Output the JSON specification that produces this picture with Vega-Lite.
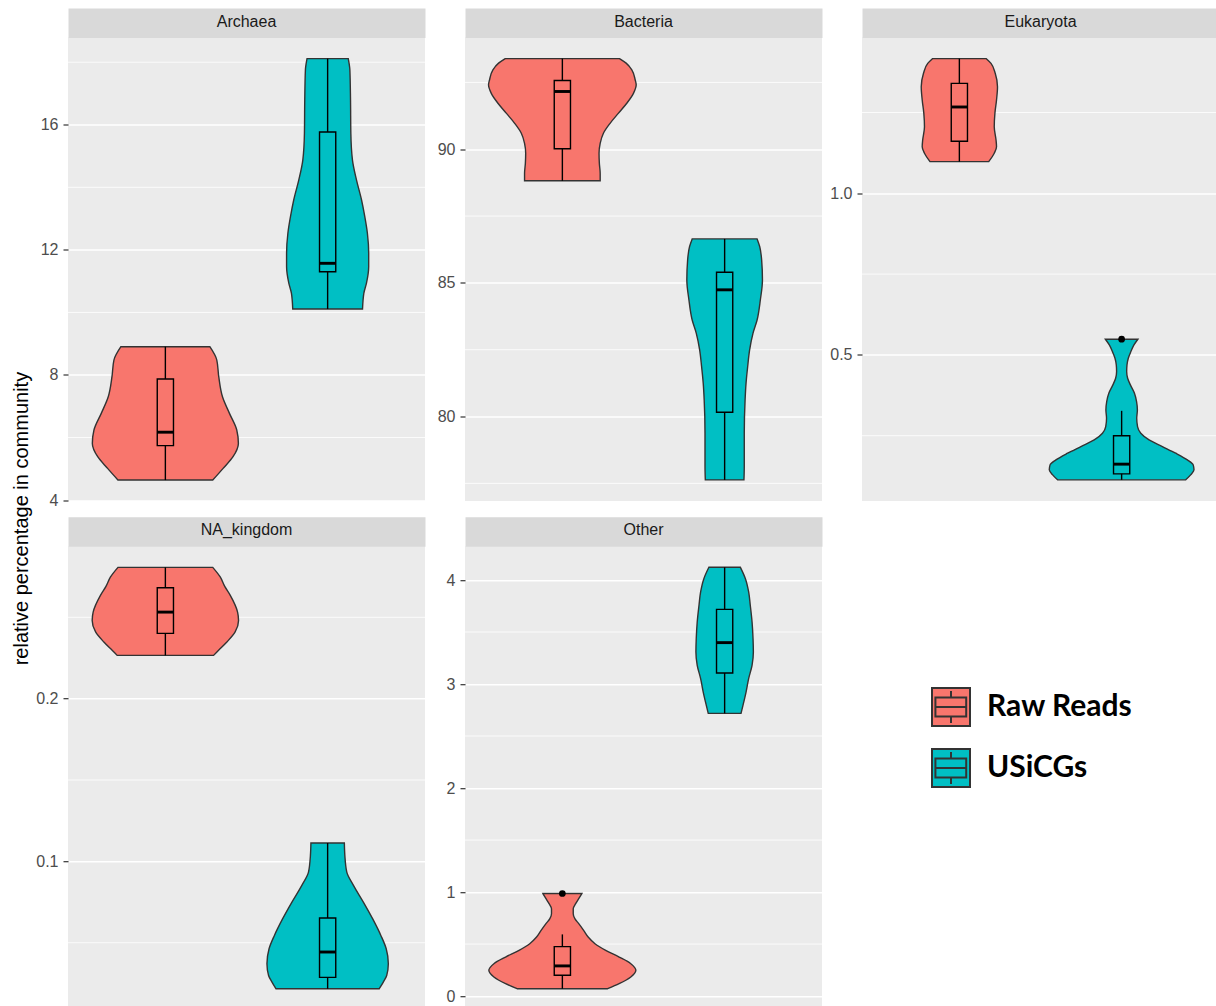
{
  "$schema": "https://vega.github.io/schema/vega-lite/v6.json",
  "padding": {"left": 11, "top": 13.5, "right": 0, "bottom": 0},
  "title": {"text": "relative percentage in community", "orient": "left", "anchor": "middle", "font": "Liberation Sans", "fontSize": 20, "fontWeight": "normal", "color": "#000000", "offset": 4, "dx": -7},
  "datasets": {
    "violin": [
      {"k":"Archaea","s":"Raw Reads","y":8.903,"w":0.274},{"k":"Archaea","s":"Raw Reads","y":8.477,"w":0.317},{"k":"Archaea","s":"Raw Reads","y":7.944,"w":0.329},{"k":"Archaea","s":"Raw Reads","y":7.304,"w":0.352},{"k":"Archaea","s":"Raw Reads","y":6.772,"w":0.395},{"k":"Archaea","s":"Raw Reads","y":6.239,"w":0.44},{"k":"Archaea","s":"Raw Reads","y":5.812,"w":0.45},{"k":"Archaea","s":"Raw Reads","y":5.386,"w":0.417},{"k":"Archaea","s":"Raw Reads","y":5.013,"w":0.356},{"k":"Archaea","s":"Raw Reads","y":4.64,"w":0.292},
      {"k":"Archaea","s":"USiCGs","y":18.114,"w":0.127},{"k":"Archaea","s":"USiCGs","y":17.75,"w":0.137},{"k":"Archaea","s":"USiCGs","y":16.79,"w":0.141},{"k":"Archaea","s":"USiCGs","y":15.73,"w":0.143},{"k":"Archaea","s":"USiCGs","y":14.87,"w":0.153},{"k":"Archaea","s":"USiCGs","y":14.23,"w":0.178},{"k":"Archaea","s":"USiCGs","y":13.594,"w":0.209},{"k":"Archaea","s":"USiCGs","y":13.06,"w":0.229},{"k":"Archaea","s":"USiCGs","y":12.53,"w":0.245},{"k":"Archaea","s":"USiCGs","y":11.89,"w":0.253},{"k":"Archaea","s":"USiCGs","y":11.46,"w":0.253},{"k":"Archaea","s":"USiCGs","y":10.93,"w":0.239},{"k":"Archaea","s":"USiCGs","y":10.61,"w":0.223},{"k":"Archaea","s":"USiCGs","y":10.108,"w":0.215},
      {"k":"Bacteria","s":"Raw Reads","y":93.39,"w":0.352},{"k":"Bacteria","s":"Raw Reads","y":93.22,"w":0.393},{"k":"Bacteria","s":"Raw Reads","y":92.97,"w":0.428},{"k":"Bacteria","s":"Raw Reads","y":92.59,"w":0.449},{"k":"Bacteria","s":"Raw Reads","y":92.41,"w":0.455},{"k":"Bacteria","s":"Raw Reads","y":92.09,"w":0.438},{"k":"Bacteria","s":"Raw Reads","y":91.72,"w":0.397},{"k":"Bacteria","s":"Raw Reads","y":91.35,"w":0.346},{"k":"Bacteria","s":"Raw Reads","y":90.97,"w":0.294},{"k":"Bacteria","s":"Raw Reads","y":90.6,"w":0.253},{"k":"Bacteria","s":"Raw Reads","y":90.22,"w":0.233},{"k":"Bacteria","s":"Raw Reads","y":89.85,"w":0.226},{"k":"Bacteria","s":"Raw Reads","y":89.47,"w":0.228},{"k":"Bacteria","s":"Raw Reads","y":89.1,"w":0.233},{"k":"Bacteria","s":"Raw Reads","y":88.82,"w":0.233},
      {"k":"Bacteria","s":"USiCGs","y":86.645,"w":0.2},{"k":"Bacteria","s":"USiCGs","y":86.36,"w":0.216},{"k":"Bacteria","s":"USiCGs","y":85.86,"w":0.228},{"k":"Bacteria","s":"USiCGs","y":85.11,"w":0.233},{"k":"Bacteria","s":"USiCGs","y":84.36,"w":0.22},{"k":"Bacteria","s":"USiCGs","y":83.61,"w":0.2},{"k":"Bacteria","s":"USiCGs","y":83.12,"w":0.175},{"k":"Bacteria","s":"USiCGs","y":82.49,"w":0.154},{"k":"Bacteria","s":"USiCGs","y":81.87,"w":0.142},{"k":"Bacteria","s":"USiCGs","y":81.25,"w":0.132},{"k":"Bacteria","s":"USiCGs","y":80.62,"w":0.126},{"k":"Bacteria","s":"USiCGs","y":79.38,"w":0.121},{"k":"Bacteria","s":"USiCGs","y":78.13,"w":0.121},{"k":"Bacteria","s":"USiCGs","y":77.63,"w":0.119},
      {"k":"Eukaryota","s":"Raw Reads","y":1.4165,"w":0.166},{"k":"Eukaryota","s":"Raw Reads","y":1.4021,"w":0.195},{"k":"Eukaryota","s":"Raw Reads","y":1.3712,"w":0.221},{"k":"Eukaryota","s":"Raw Reads","y":1.3299,"w":0.235},{"k":"Eukaryota","s":"Raw Reads","y":1.2887,"w":0.229},{"k":"Eukaryota","s":"Raw Reads","y":1.2474,"w":0.219},{"k":"Eukaryota","s":"Raw Reads","y":1.2062,"w":0.215},{"k":"Eukaryota","s":"Raw Reads","y":1.1649,"w":0.226},{"k":"Eukaryota","s":"Raw Reads","y":1.1443,"w":0.229},{"k":"Eukaryota","s":"Raw Reads","y":1.1237,"w":0.215},{"k":"Eukaryota","s":"Raw Reads","y":1.0979,"w":0.181},
      {"k":"Eukaryota","s":"USiCGs","y":0.5485,"w":0.1},{"k":"Eukaryota","s":"USiCGs","y":0.5309,"w":0.076},{"k":"Eukaryota","s":"USiCGs","y":0.5103,"w":0.057},{"k":"Eukaryota","s":"USiCGs","y":0.4897,"w":0.041},{"k":"Eukaryota","s":"USiCGs","y":0.4691,"w":0.033},{"k":"Eukaryota","s":"USiCGs","y":0.4484,"w":0.031},{"k":"Eukaryota","s":"USiCGs","y":0.4278,"w":0.037},{"k":"Eukaryota","s":"USiCGs","y":0.4072,"w":0.054},{"k":"Eukaryota","s":"USiCGs","y":0.3814,"w":0.079},{"k":"Eukaryota","s":"USiCGs","y":0.3557,"w":0.092},{"k":"Eukaryota","s":"USiCGs","y":0.3299,"w":0.097},{"k":"Eukaryota","s":"USiCGs","y":0.3041,"w":0.093},{"k":"Eukaryota","s":"USiCGs","y":0.2783,"w":0.098},{"k":"Eukaryota","s":"USiCGs","y":0.2577,"w":0.118},{"k":"Eukaryota","s":"USiCGs","y":0.2371,"w":0.169},{"k":"Eukaryota","s":"USiCGs","y":0.2165,"w":0.251},{"k":"Eukaryota","s":"USiCGs","y":0.1959,"w":0.333},{"k":"Eukaryota","s":"USiCGs","y":0.1752,"w":0.405},{"k":"Eukaryota","s":"USiCGs","y":0.1598,"w":0.441},{"k":"Eukaryota","s":"USiCGs","y":0.1443,"w":0.446},{"k":"Eukaryota","s":"USiCGs","y":0.1288,"w":0.425},{"k":"Eukaryota","s":"USiCGs","y":0.1134,"w":0.395},
      {"k":"NA_kingdom","s":"Raw Reads","y":0.2807,"w":0.292},{"k":"NA_kingdom","s":"Raw Reads","y":0.2748,"w":0.338},{"k":"NA_kingdom","s":"Raw Reads","y":0.269,"w":0.366},{"k":"NA_kingdom","s":"Raw Reads","y":0.2635,"w":0.4},{"k":"NA_kingdom","s":"Raw Reads","y":0.2532,"w":0.445},{"k":"NA_kingdom","s":"Raw Reads","y":0.2481,"w":0.451},{"k":"NA_kingdom","s":"Raw Reads","y":0.241,"w":0.43},{"k":"NA_kingdom","s":"Raw Reads","y":0.2348,"w":0.379},{"k":"NA_kingdom","s":"Raw Reads","y":0.2297,"w":0.328},{"k":"NA_kingdom","s":"Raw Reads","y":0.2266,"w":0.297},
      {"k":"NA_kingdom","s":"USiCGs","y":0.1113,"w":0.103},{"k":"NA_kingdom","s":"USiCGs","y":0.1037,"w":0.106},{"k":"NA_kingdom","s":"USiCGs","y":0.0934,"w":0.118},{"k":"NA_kingdom","s":"USiCGs","y":0.0853,"w":0.159},{"k":"NA_kingdom","s":"USiCGs","y":0.075,"w":0.22},{"k":"NA_kingdom","s":"USiCGs","y":0.0648,"w":0.277},{"k":"NA_kingdom","s":"USiCGs","y":0.0545,"w":0.328},{"k":"NA_kingdom","s":"USiCGs","y":0.0463,"w":0.361},{"k":"NA_kingdom","s":"USiCGs","y":0.0371,"w":0.374},{"k":"NA_kingdom","s":"USiCGs","y":0.0299,"w":0.364},{"k":"NA_kingdom","s":"USiCGs","y":0.0258,"w":0.343},{"k":"NA_kingdom","s":"USiCGs","y":0.0217,"w":0.318},
      {"k":"Other","s":"Raw Reads","y":0.986,"w":0.12},{"k":"Other","s":"Raw Reads","y":0.9363,"w":0.101},{"k":"Other","s":"Raw Reads","y":0.8882,"w":0.082},{"k":"Other","s":"Raw Reads","y":0.8401,"w":0.067},{"k":"Other","s":"Raw Reads","y":0.792,"w":0.067},{"k":"Other","s":"Raw Reads","y":0.744,"w":0.077},{"k":"Other","s":"Raw Reads","y":0.6959,"w":0.101},{"k":"Other","s":"Raw Reads","y":0.6317,"w":0.131},{"k":"Other","s":"Raw Reads","y":0.5676,"w":0.159},{"k":"Other","s":"Raw Reads","y":0.5036,"w":0.201},{"k":"Other","s":"Raw Reads","y":0.4394,"w":0.267},{"k":"Other","s":"Raw Reads","y":0.3753,"w":0.35},{"k":"Other","s":"Raw Reads","y":0.3113,"w":0.422},{"k":"Other","s":"Raw Reads","y":0.2471,"w":0.453},{"k":"Other","s":"Raw Reads","y":0.183,"w":0.422},{"k":"Other","s":"Raw Reads","y":0.1189,"w":0.35},{"k":"Other","s":"Raw Reads","y":0.0709,"w":0.279},
      {"k":"Other","s":"USiCGs","y":4.122,"w":0.097},{"k":"Other","s":"USiCGs","y":4.013,"w":0.128},{"k":"Other","s":"USiCGs","y":3.885,"w":0.148},{"k":"Other","s":"USiCGs","y":3.757,"w":0.158},{"k":"Other","s":"USiCGs","y":3.596,"w":0.169},{"k":"Other","s":"USiCGs","y":3.436,"w":0.175},{"k":"Other","s":"USiCGs","y":3.308,"w":0.177},{"k":"Other","s":"USiCGs","y":3.18,"w":0.169},{"k":"Other","s":"USiCGs","y":3.052,"w":0.148},{"k":"Other","s":"USiCGs","y":2.923,"w":0.132},{"k":"Other","s":"USiCGs","y":2.795,"w":0.113},{"k":"Other","s":"USiCGs","y":2.718,"w":0.101}
    ],
    "box": [
      {"k":"Archaea","s":"Raw Reads","wlo":4.64,"q1":5.74,"med":6.17,"q3":7.87,"whi":8.903},
      {"k":"Archaea","s":"USiCGs","wlo":10.108,"q1":11.3,"med":11.57,"q3":15.77,"whi":18.114},
      {"k":"Bacteria","s":"Raw Reads","wlo":88.82,"q1":90.02,"med":92.16,"q3":92.57,"whi":93.39},
      {"k":"Bacteria","s":"USiCGs","wlo":77.63,"q1":80.16,"med":84.74,"q3":85.4,"whi":86.645},
      {"k":"Eukaryota","s":"Raw Reads","wlo":1.0979,"q1":1.161,"med":1.267,"q3":1.34,"whi":1.4165},
      {"k":"Eukaryota","s":"USiCGs","wlo":0.1134,"q1":0.132,"med":0.162,"q3":0.25,"whi":0.327},
      {"k":"NA_kingdom","s":"Raw Reads","wlo":0.2266,"q1":0.2401,"med":0.2532,"q3":0.2682,"whi":0.2807},
      {"k":"NA_kingdom","s":"USiCGs","wlo":0.0217,"q1":0.0287,"med":0.0443,"q3":0.0652,"whi":0.1113},
      {"k":"Other","s":"Raw Reads","wlo":0.0709,"q1":0.2,"med":0.29,"q3":0.475,"whi":0.593},
      {"k":"Other","s":"USiCGs","wlo":2.718,"q1":3.106,"med":3.398,"q3":3.718,"whi":4.122}
    ],
    "out": [
      {"k":"Eukaryota","s":"USiCGs","v":0.5485},
      {"k":"Other","s":"Raw Reads","v":0.986}
    ],
    "minor": [
      {"k":"Archaea","v":6},{"k":"Archaea","v":10},{"k":"Archaea","v":14},{"k":"Archaea","v":18},
      {"k":"Bacteria","v":77.5},{"k":"Bacteria","v":82.5},{"k":"Bacteria","v":87.5},{"k":"Bacteria","v":92.5},
      {"k":"Eukaryota","v":0.25},{"k":"Eukaryota","v":0.75},{"k":"Eukaryota","v":1.25},
      {"k":"NA_kingdom","v":0.05},{"k":"NA_kingdom","v":0.15},{"k":"NA_kingdom","v":0.25},
      {"k":"Other","v":0.5},{"k":"Other","v":1.5},{"k":"Other","v":2.5},{"k":"Other","v":3.5}
    ]
  },
  "columns": 3,
  "bounds": "flush",
  "spacing": {"row": 44.7, "column": 40},
  "concat": [
    {"width": 357, "height": 463.5, "view": {"fill": "#EBEBEB", "stroke": null},
     "title": {"text": "Archaea", "offset": -14.75, "baseline": "middle", "anchor": "middle", "frame": "group", "font": "Liberation Sans", "fontSize": 16, "fontWeight": "normal", "color": "#1A1A1A"},
     "layer": [
       {"data": {"name": "minor"}, "transform": [{"filter": "datum.k === 'Archaea'"}], "mark": {"type": "rule", "color": "#FFFFFF", "strokeWidth": 0.8}, "encoding": {"y": {"field": "v", "type": "quantitative", "title": null}}},
       {"data": {"name": "violin"}, "transform": [{"filter": "datum.k === 'Archaea'"}, {"calculate": "(datum.s === 'Raw Reads' ? 1 : 2) - datum.w", "as": "lo"}, {"calculate": "(datum.s === 'Raw Reads' ? 1 : 2) + datum.w", "as": "hi"}],
        "mark": {"type": "area", "orient": "horizontal", "interpolate": "monotone", "stroke": "#333333", "strokeWidth": 1.4, "fillOpacity": 1},
        "encoding": {
          "y": {"field": "y", "type": "quantitative", "title": null, "scale": {"domain": [3.97, 18.79], "nice": false, "zero": false}, "axis": {"values": [4, 8, 12, 16], "format": "d"}},
          "x": {"field": "lo", "type": "quantitative", "title": null, "scale": {"domain": [0.4, 2.6], "nice": false, "zero": false}, "axis": {"values": [1, 2]}},
          "x2": {"field": "hi"},
          "fill": {"field": "s", "type": "nominal", "title": null, "scale": {"domain": ["Raw Reads", "USiCGs"], "range": ["#F8766D", "#00BFC4"]}}
        }},
       {"data": {"name": "box"}, "transform": [{"filter": "datum.k === 'Archaea'"}, {"calculate": "datum.s === 'Raw Reads' ? 1 : 2", "as": "pos"}, {"calculate": "datum.pos - 0.05", "as": "b1"}, {"calculate": "datum.pos + 0.05", "as": "b2"}],
        "layer": [
          {"mark": {"type": "rule", "color": "#000000", "strokeWidth": 1.4}, "encoding": {"x": {"field": "pos", "type": "quantitative", "title": null}, "y": {"field": "wlo", "type": "quantitative", "title": null}, "y2": {"field": "whi"}}},
          {"mark": {"type": "rect", "stroke": "#000000", "strokeWidth": 1.4}, "encoding": {"x": {"field": "b1", "type": "quantitative", "title": null}, "x2": {"field": "b2"}, "y": {"field": "q1", "type": "quantitative", "title": null}, "y2": {"field": "q3"}, "fill": {"field": "s", "type": "nominal", "title": null, "scale": {"domain": ["Raw Reads", "USiCGs"], "range": ["#F8766D", "#00BFC4"]}}}},
          {"mark": {"type": "rule", "color": "#000000", "strokeWidth": 2.9}, "encoding": {"x": {"field": "b1", "type": "quantitative", "title": null}, "x2": {"field": "b2"}, "y": {"field": "med", "type": "quantitative", "title": null}}}
        ]},
       {"data": {"name": "out"}, "transform": [{"filter": "datum.k === 'Archaea'"}, {"calculate": "datum.s === 'Raw Reads' ? 1 : 2", "as": "pos"}], "mark": {"type": "circle", "color": "#000000", "size": 45, "opacity": 1}, "encoding": {"x": {"field": "pos", "type": "quantitative", "axis": {"orient": "top", "title": null, "grid": false, "domain": true, "domainColor": "#D9D9D9", "domainWidth": 29.5, "offset": 14.75, "labels": false, "ticks": false}}, "y": {"field": "v", "type": "quantitative", "title": null}}}
     ]},
    {"width": 357, "height": 463.5, "view": {"fill": "#EBEBEB", "stroke": null},
     "title": {"text": "Bacteria", "offset": -14.75, "baseline": "middle", "anchor": "middle", "frame": "group", "font": "Liberation Sans", "fontSize": 16, "fontWeight": "normal", "color": "#1A1A1A"},
     "layer": [
       {"data": {"name": "minor"}, "transform": [{"filter": "datum.k === 'Bacteria'"}], "mark": {"type": "rule", "color": "#FFFFFF", "strokeWidth": 0.8}, "encoding": {"y": {"field": "v", "type": "quantitative", "title": null}}},
       {"data": {"name": "violin"}, "transform": [{"filter": "datum.k === 'Bacteria'"}, {"calculate": "(datum.s === 'Raw Reads' ? 1 : 2) - datum.w", "as": "lo"}, {"calculate": "(datum.s === 'Raw Reads' ? 1 : 2) + datum.w", "as": "hi"}],
        "mark": {"type": "area", "orient": "horizontal", "interpolate": "monotone", "stroke": "#333333", "strokeWidth": 1.4, "fillOpacity": 1},
        "encoding": {
          "y": {"field": "y", "type": "quantitative", "title": null, "scale": {"domain": [76.84, 94.18], "nice": false, "zero": false}, "axis": {"values": [80, 85, 90], "format": "d"}},
          "x": {"field": "lo", "type": "quantitative", "title": null, "scale": {"domain": [0.4, 2.6], "nice": false, "zero": false}, "axis": {"values": [1, 2]}},
          "x2": {"field": "hi"},
          "fill": {"field": "s", "type": "nominal", "title": null, "scale": {"domain": ["Raw Reads", "USiCGs"], "range": ["#F8766D", "#00BFC4"]}}
        }},
       {"data": {"name": "box"}, "transform": [{"filter": "datum.k === 'Bacteria'"}, {"calculate": "datum.s === 'Raw Reads' ? 1 : 2", "as": "pos"}, {"calculate": "datum.pos - 0.05", "as": "b1"}, {"calculate": "datum.pos + 0.05", "as": "b2"}],
        "layer": [
          {"mark": {"type": "rule", "color": "#000000", "strokeWidth": 1.4}, "encoding": {"x": {"field": "pos", "type": "quantitative", "title": null}, "y": {"field": "wlo", "type": "quantitative", "title": null}, "y2": {"field": "whi"}}},
          {"mark": {"type": "rect", "stroke": "#000000", "strokeWidth": 1.4}, "encoding": {"x": {"field": "b1", "type": "quantitative", "title": null}, "x2": {"field": "b2"}, "y": {"field": "q1", "type": "quantitative", "title": null}, "y2": {"field": "q3"}, "fill": {"field": "s", "type": "nominal", "title": null, "scale": {"domain": ["Raw Reads", "USiCGs"], "range": ["#F8766D", "#00BFC4"]}}}},
          {"mark": {"type": "rule", "color": "#000000", "strokeWidth": 2.9}, "encoding": {"x": {"field": "b1", "type": "quantitative", "title": null}, "x2": {"field": "b2"}, "y": {"field": "med", "type": "quantitative", "title": null}}}
        ]},
       {"data": {"name": "out"}, "transform": [{"filter": "datum.k === 'Bacteria'"}, {"calculate": "datum.s === 'Raw Reads' ? 1 : 2", "as": "pos"}], "mark": {"type": "circle", "color": "#000000", "size": 45, "opacity": 1}, "encoding": {"x": {"field": "pos", "type": "quantitative", "axis": {"orient": "top", "title": null, "grid": false, "domain": true, "domainColor": "#D9D9D9", "domainWidth": 29.5, "offset": 14.75, "labels": false, "ticks": false}}, "y": {"field": "v", "type": "quantitative", "title": null}}}
     ]},
    {"width": 357, "height": 463.5, "view": {"fill": "#EBEBEB", "stroke": null},
     "title": {"text": "Eukaryota", "offset": -14.75, "baseline": "middle", "anchor": "middle", "frame": "group", "font": "Liberation Sans", "fontSize": 16, "fontWeight": "normal", "color": "#1A1A1A"},
     "layer": [
       {"data": {"name": "minor"}, "transform": [{"filter": "datum.k === 'Eukaryota'"}], "mark": {"type": "rule", "color": "#FFFFFF", "strokeWidth": 0.8}, "encoding": {"y": {"field": "v", "type": "quantitative", "title": null}}},
       {"data": {"name": "violin"}, "transform": [{"filter": "datum.k === 'Eukaryota'"}, {"calculate": "(datum.s === 'Raw Reads' ? 1 : 2) - datum.w", "as": "lo"}, {"calculate": "(datum.s === 'Raw Reads' ? 1 : 2) + datum.w", "as": "hi"}],
        "mark": {"type": "area", "orient": "horizontal", "interpolate": "monotone", "stroke": "#333333", "strokeWidth": 1.4, "fillOpacity": 1},
        "encoding": {
          "y": {"field": "y", "type": "quantitative", "title": null, "scale": {"domain": [0.048, 1.482], "nice": false, "zero": false}, "axis": {"values": [0.5, 1.0], "format": ".1f"}},
          "x": {"field": "lo", "type": "quantitative", "title": null, "scale": {"domain": [0.4, 2.6], "nice": false, "zero": false}, "axis": {"values": [1, 2]}},
          "x2": {"field": "hi"},
          "fill": {"field": "s", "type": "nominal", "title": null, "scale": {"domain": ["Raw Reads", "USiCGs"], "range": ["#F8766D", "#00BFC4"]}}
        }},
       {"data": {"name": "box"}, "transform": [{"filter": "datum.k === 'Eukaryota'"}, {"calculate": "datum.s === 'Raw Reads' ? 1 : 2", "as": "pos"}, {"calculate": "datum.pos - 0.05", "as": "b1"}, {"calculate": "datum.pos + 0.05", "as": "b2"}],
        "layer": [
          {"mark": {"type": "rule", "color": "#000000", "strokeWidth": 1.4}, "encoding": {"x": {"field": "pos", "type": "quantitative", "title": null}, "y": {"field": "wlo", "type": "quantitative", "title": null}, "y2": {"field": "whi"}}},
          {"mark": {"type": "rect", "stroke": "#000000", "strokeWidth": 1.4}, "encoding": {"x": {"field": "b1", "type": "quantitative", "title": null}, "x2": {"field": "b2"}, "y": {"field": "q1", "type": "quantitative", "title": null}, "y2": {"field": "q3"}, "fill": {"field": "s", "type": "nominal", "title": null, "scale": {"domain": ["Raw Reads", "USiCGs"], "range": ["#F8766D", "#00BFC4"]}}}},
          {"mark": {"type": "rule", "color": "#000000", "strokeWidth": 2.9}, "encoding": {"x": {"field": "b1", "type": "quantitative", "title": null}, "x2": {"field": "b2"}, "y": {"field": "med", "type": "quantitative", "title": null}}}
        ]},
       {"data": {"name": "out"}, "transform": [{"filter": "datum.k === 'Eukaryota'"}, {"calculate": "datum.s === 'Raw Reads' ? 1 : 2", "as": "pos"}], "mark": {"type": "circle", "color": "#000000", "size": 45, "opacity": 1}, "encoding": {"x": {"field": "pos", "type": "quantitative", "axis": {"orient": "top", "title": null, "grid": false, "domain": true, "domainColor": "#D9D9D9", "domainWidth": 29.5, "offset": 14.75, "labels": false, "ticks": false}}, "y": {"field": "v", "type": "quantitative", "title": null}}}
     ]},
    {"width": 357, "height": 463.5, "view": {"fill": "#EBEBEB", "stroke": null},
     "title": {"text": "NA_kingdom", "offset": -14.75, "baseline": "middle", "anchor": "middle", "frame": "group", "font": "Liberation Sans", "fontSize": 16, "fontWeight": "normal", "color": "#1A1A1A"},
     "layer": [
       {"data": {"name": "minor"}, "transform": [{"filter": "datum.k === 'NA_kingdom'"}], "mark": {"type": "rule", "color": "#FFFFFF", "strokeWidth": 0.8}, "encoding": {"y": {"field": "v", "type": "quantitative", "title": null}}},
       {"data": {"name": "violin"}, "transform": [{"filter": "datum.k === 'NA_kingdom'"}, {"calculate": "(datum.s === 'Raw Reads' ? 1 : 2) - datum.w", "as": "lo"}, {"calculate": "(datum.s === 'Raw Reads' ? 1 : 2) + datum.w", "as": "hi"}],
        "mark": {"type": "area", "orient": "horizontal", "interpolate": "monotone", "stroke": "#333333", "strokeWidth": 1.4, "fillOpacity": 1},
        "encoding": {
          "y": {"field": "y", "type": "quantitative", "title": null, "scale": {"domain": [0.00885, 0.2937], "nice": false, "zero": false}, "axis": {"values": [0.1, 0.2], "format": ".1f"}},
          "x": {"field": "lo", "type": "quantitative", "title": null, "scale": {"domain": [0.4, 2.6], "nice": false, "zero": false}, "axis": {"values": [1, 2]}},
          "x2": {"field": "hi"},
          "fill": {"field": "s", "type": "nominal", "title": null, "scale": {"domain": ["Raw Reads", "USiCGs"], "range": ["#F8766D", "#00BFC4"]}}
        }},
       {"data": {"name": "box"}, "transform": [{"filter": "datum.k === 'NA_kingdom'"}, {"calculate": "datum.s === 'Raw Reads' ? 1 : 2", "as": "pos"}, {"calculate": "datum.pos - 0.05", "as": "b1"}, {"calculate": "datum.pos + 0.05", "as": "b2"}],
        "layer": [
          {"mark": {"type": "rule", "color": "#000000", "strokeWidth": 1.4}, "encoding": {"x": {"field": "pos", "type": "quantitative", "title": null}, "y": {"field": "wlo", "type": "quantitative", "title": null}, "y2": {"field": "whi"}}},
          {"mark": {"type": "rect", "stroke": "#000000", "strokeWidth": 1.4}, "encoding": {"x": {"field": "b1", "type": "quantitative", "title": null}, "x2": {"field": "b2"}, "y": {"field": "q1", "type": "quantitative", "title": null}, "y2": {"field": "q3"}, "fill": {"field": "s", "type": "nominal", "title": null, "scale": {"domain": ["Raw Reads", "USiCGs"], "range": ["#F8766D", "#00BFC4"]}}}},
          {"mark": {"type": "rule", "color": "#000000", "strokeWidth": 2.9}, "encoding": {"x": {"field": "b1", "type": "quantitative", "title": null}, "x2": {"field": "b2"}, "y": {"field": "med", "type": "quantitative", "title": null}}}
        ]},
       {"data": {"name": "out"}, "transform": [{"filter": "datum.k === 'NA_kingdom'"}, {"calculate": "datum.s === 'Raw Reads' ? 1 : 2", "as": "pos"}], "mark": {"type": "circle", "color": "#000000", "size": 45, "opacity": 1}, "encoding": {"x": {"field": "pos", "type": "quantitative", "axis": {"orient": "top", "title": null, "grid": false, "domain": true, "domainColor": "#D9D9D9", "domainWidth": 29.5, "offset": 14.75, "labels": false, "ticks": false}}, "y": {"field": "v", "type": "quantitative", "title": null}}}
     ]},
    {"width": 357, "height": 463.5, "view": {"fill": "#EBEBEB", "stroke": null},
     "title": {"text": "Other", "offset": -14.75, "baseline": "middle", "anchor": "middle", "frame": "group", "font": "Liberation Sans", "fontSize": 16, "fontWeight": "normal", "color": "#1A1A1A"},
     "layer": [
       {"data": {"name": "minor"}, "transform": [{"filter": "datum.k === 'Other'"}], "mark": {"type": "rule", "color": "#FFFFFF", "strokeWidth": 0.8}, "encoding": {"y": {"field": "v", "type": "quantitative", "title": null}}},
       {"data": {"name": "violin"}, "transform": [{"filter": "datum.k === 'Other'"}, {"calculate": "(datum.s === 'Raw Reads' ? 1 : 2) - datum.w", "as": "lo"}, {"calculate": "(datum.s === 'Raw Reads' ? 1 : 2) + datum.w", "as": "hi"}],
        "mark": {"type": "area", "orient": "horizontal", "interpolate": "monotone", "stroke": "#333333", "strokeWidth": 1.4, "fillOpacity": 1},
        "encoding": {
          "y": {"field": "y", "type": "quantitative", "title": null, "scale": {"domain": [-0.131, 4.325], "nice": false, "zero": false}, "axis": {"values": [0, 1, 2, 3, 4], "format": "d"}},
          "x": {"field": "lo", "type": "quantitative", "title": null, "scale": {"domain": [0.4, 2.6], "nice": false, "zero": false}, "axis": {"values": [1, 2]}},
          "x2": {"field": "hi"},
          "fill": {"field": "s", "type": "nominal", "title": null, "scale": {"domain": ["Raw Reads", "USiCGs"], "range": ["#F8766D", "#00BFC4"]}}
        }},
       {"data": {"name": "box"}, "transform": [{"filter": "datum.k === 'Other'"}, {"calculate": "datum.s === 'Raw Reads' ? 1 : 2", "as": "pos"}, {"calculate": "datum.pos - 0.05", "as": "b1"}, {"calculate": "datum.pos + 0.05", "as": "b2"}],
        "layer": [
          {"mark": {"type": "rule", "color": "#000000", "strokeWidth": 1.4}, "encoding": {"x": {"field": "pos", "type": "quantitative", "title": null}, "y": {"field": "wlo", "type": "quantitative", "title": null}, "y2": {"field": "whi"}}},
          {"mark": {"type": "rect", "stroke": "#000000", "strokeWidth": 1.4}, "encoding": {"x": {"field": "b1", "type": "quantitative", "title": null}, "x2": {"field": "b2"}, "y": {"field": "q1", "type": "quantitative", "title": null}, "y2": {"field": "q3"}, "fill": {"field": "s", "type": "nominal", "title": null, "scale": {"domain": ["Raw Reads", "USiCGs"], "range": ["#F8766D", "#00BFC4"]}}}},
          {"mark": {"type": "rule", "color": "#000000", "strokeWidth": 2.9}, "encoding": {"x": {"field": "b1", "type": "quantitative", "title": null}, "x2": {"field": "b2"}, "y": {"field": "med", "type": "quantitative", "title": null}}}
        ]},
       {"data": {"name": "out"}, "transform": [{"filter": "datum.k === 'Other'"}, {"calculate": "datum.s === 'Raw Reads' ? 1 : 2", "as": "pos"}], "mark": {"type": "circle", "color": "#000000", "size": 45, "opacity": 1}, "encoding": {"x": {"field": "pos", "type": "quantitative", "axis": {"orient": "top", "title": null, "grid": false, "domain": true, "domainColor": "#D9D9D9", "domainWidth": 29.5, "offset": 14.75, "labels": false, "ticks": false}}, "y": {"field": "v", "type": "quantitative", "title": null}}}
     ]}
  ],
  "config": {
    "view": {"stroke": null},
    "axisY": {"grid": true, "gridColor": "#FFFFFF", "gridWidth": 1.6, "domain": false, "tickColor": "#333333", "tickSize": 5, "tickWidth": 1.2, "labelColor": "#4D4D4D", "labelFont": "Liberation Sans", "labelFontSize": 16, "labelPadding": 5, "labelFlush": false, "labelOverlap": false},
    "axisX": {"grid": true, "gridColor": "#FFFFFF", "gridWidth": 1.6, "domain": false, "ticks": false, "labels": false},
    "legend": {"orient": "none", "legendX": 863, "legendY": 649.5, "symbolType": "M-1,-1H1V1H-1Z M-0.82,-0.5H0.8V0.5H-0.82Z M-0.82,0H0.8 M0,-0.5V-0.84 M0,0.5V0.84", "symbolSize": 1444, "symbolStrokeColor": "#333333", "symbolStrokeWidth": 2, "symbolOpacity": 1, "labelFont": "Lato", "labelFontSize": 30, "labelFontWeight": "bold", "labelColor": "#000000", "labelOffset": 16, "rowPadding": 15, "labelLimit": 400}
  }
}
